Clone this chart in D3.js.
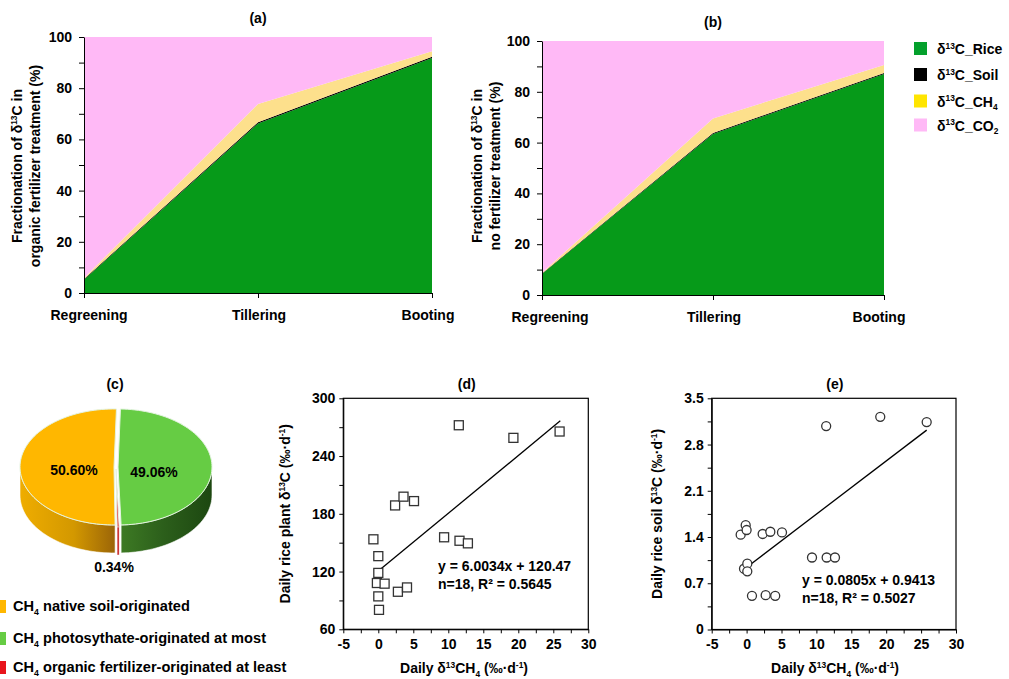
<!DOCTYPE html>
<html>
<head>
<meta charset="utf-8">
<script src="https://cdn.jsdelivr.net/npm/d3@7"></script>
<style>
  body { margin: 0; background: #fff; }
  svg { font-family: "Liberation Sans", Arial, sans-serif; }
  .tick text { font-size: 14px; font-weight: bold; fill: #000; }
</style>
</head>
<body>
<svg id="fig" width="1009" height="679"></svg>
<script>
// ---- data ----
const stages = ["Regreening", "Tillering", "Booting"];
const riceA = [5.2, 66.2, 91.8];
const soilA = [0.3, 0.5, 0.5];
const ch4A  = [0.4, 7.1, 2.1];
const riceB = [8.3, 63.4, 87.0];
const soilB = [0.2, 0.4, 0.4];
const ch4B  = [0.3, 5.7, 3.2];
const stackKeys = ["rice", "soil", "ch4", "co2"];
const legendLabels = ["δ^{13}C_Rice", "δ^{13}C_Soil", "δ^{13}C_CH_{4}", "δ^{13}C_CO_{2}"];

const pieNames = ["CH_{4} photosythate-originated at most", "CH_{4} organic fertilizer-originated at least", "CH_{4} native soil-originated"];
const pieValues = [49.06, 0.34, 50.60];

const dX = [11.5, 19.3, 25.9, 2.4, 3.6, 5.1, -0.7, 0.0, 0.0, -0.2, 0.9, 0.0, 0.1, 2.8, 4.1, 9.4, 11.6, 12.8];
const dY = [272, 258.9, 265.5, 188.7, 197.8, 193.2, 153.5, 136, 118.6, 108.1, 107.4, 94.2, 80.2, 99, 103.5, 155.6, 152, 149.3];
const eX = [11.4, 19.15, 25.8, -0.85, -0.13, 0.0, 2.3, 3.4, 5.07, -0.37, 0.1, 0.1, 0.77, 2.73, 4.1, 9.37, 11.47, 12.66];
const eY = [3.08, 3.22, 3.14, 1.435, 1.58, 1.506, 1.446, 1.48, 1.47, 0.92, 0.996, 0.88, 0.51, 0.52, 0.51, 1.09, 1.09, 1.09];
const fitD = {slope: 6.0034, icpt: 120.47, from: 0, to: 26};
const fitE = {slope: 0.0805, icpt: 0.9413, from: 0.4, to: 25.8};

const svg = d3.select("#fig");

// text with ^{sup} and _{sub} parts
function rich(sel, str, fs) {
  const pieces = str.split(/(\^\{[^}]*\}|_\{[^}]*\})/).filter(s => s);
  let shift = 0;
  pieces.forEach(p => {
    let dy = 0, t = p, small = false;
    if (p.startsWith("^{")) { t = p.slice(2, -1); dy = -fs * 0.38; small = true; }
    else if (p.startsWith("_{")) { t = p.slice(2, -1); dy = fs * 0.25; small = true; }
    const ts = sel.append("tspan").text(t).attr("dy", dy - shift);
    if (small) ts.attr("font-size", fs * 0.6);
    shift = dy;
  });
  return sel;
}

function label(x, y, str, opt = {}) {
  const fs = opt.size || 14;
  const t = svg.append("text")
    .attr("x", x).attr("y", y)
    .attr("font-size", fs)
    .attr("font-weight", opt.weight || "bold")
    .attr("text-anchor", opt.anchor || "middle");
  if (opt.rotate) t.attr("transform", `rotate(-90,${x},${y})`);
  return rich(t, str, fs);
}

// ---- (a) and (b): stacked areas ----
const areaColors = {rice: "#069a19", soil: "#000000", ch4: "#fde08c", co2: "#ffb9f6"};
const legendColors = ["#04a02c", "#000000", "#ffe500", "#ffb9f6"];

function stackPanel(rice, soil, ch4, box, title, ylab2) {
  const rows = stages.map((s, i) => ({
    stage: s, rice: rice[i], soil: soil[i], ch4: ch4[i],
    co2: 100 - rice[i] - soil[i] - ch4[i]
  }));
  const series = d3.stack().keys(stackKeys)(rows);
  const x = d3.scalePoint(stages, [box.x0, box.x1]);
  const y = d3.scaleLinear([0, 100], [box.y0, box.y1]);
  const area = d3.area().x(d => x(d.data.stage)).y0(d => y(d[0])).y1(d => y(d[1]));

  svg.append("g").selectAll("path").data(series).join("path")
    .attr("d", area)
    .attr("fill", d => areaColors[d.key]);

  svg.append("g")
    .attr("transform", `translate(${box.x0},0)`)
    .call(d3.axisLeft(y).tickValues(d3.range(0, 101, 10)).tickSize(5).tickSizeOuter(0).tickPadding(7)
      .tickFormat(d => d % 20 === 0 ? d : ""));
  svg.append("g")
    .attr("transform", `translate(0,${box.y0})`)
    .call(d3.axisBottom(x).tickSize(5).tickSizeOuter(0).tickFormat(""));

  const shift = [box.lab0, 1, box.lab2];
  stages.forEach((s, i) => label(x(s) + shift[i], box.y0 + 27, s));

  label((box.x0 + box.x1) / 2, box.y1 - 14, title);
  label(box.yl - 18, 166, "Fractionation of δ^{13}C in", {rotate: true});
  label(box.yl, 166, ylab2, {rotate: true});
}

stackPanel(riceA, soilA, ch4A, {x0: 84, x1: 432, y0: 293, y1: 37, lab0: 5, lab2: -4, yl: 40},
  "(a)", "organic fertilizer treatment (%)");
stackPanel(riceB, soilB, ch4B, {x0: 542, x1: 884, y0: 295, y1: 41, lab0: 8, lab2: -5, yl: 500},
  "(b)", "no fertilizer treatment (%)");

const leg = svg.append("g");
legendLabels.forEach((l, i) => {
  const yy = [42, 68, 94.5, 118.5][i];
  leg.append("rect").attr("x", 914).attr("y", yy).attr("width", 13).attr("height", 13)
    .attr("fill", legendColors[i]);
  const t = leg.append("text").attr("x", 937).attr("y", yy + 12)
    .attr("font-size", 14).attr("font-weight", "bold");
  rich(t, l, 14);
});

// ---- (c): 3-D pie ----
const pc = {cx: 116, cy: 467, rx: 94, ry: 58, depth: 28, explode: 2};
const topColors = ["#66cc44", "#e8141c", "#ffb700"];
const defs = svg.append("defs");
const wallStops = [
  [["0%", "#3f7d25"], ["50%", "#2c5f1b"], ["100%", "#1d4811"]],
  [["0%", "#c00000"], ["100%", "#c00000"]],
  [["0%", "#eeac00"], ["55%", "#d39800"], ["100%", "#9a6408"]]
];
wallStops.forEach((st, i) => {
  const g = defs.append("linearGradient").attr("id", "wall" + i)
    .attr("gradientUnits", "userSpaceOnUse")
    .attr("x1", i === 0 ? pc.cx : pc.cx - pc.rx).attr("x2", i === 0 ? pc.cx + pc.rx : pc.cx)
    .attr("y1", 0).attr("y2", 0);
  st.forEach(s => g.append("stop").attr("offset", s[0]).attr("stop-color", s[1]));
});

const arcs = d3.pie().sort(null).startAngle(0.026).endAngle(0.026 + 2 * Math.PI)(pieValues);
const pt = (a, o) => [pc.cx + o[0] + pc.rx * Math.sin(a), pc.cy + o[1] - pc.ry * Math.cos(a)];
const offs = arcs.map(a => {
  const m = (a.startAngle + a.endAngle) / 2;
  return [pc.explode * Math.sin(m), -pc.explode * Math.cos(m)];
});

const pieG = svg.append("g");
arcs.forEach((a, i) => {
  const s = Math.max(a.startAngle, Math.PI / 2), e = Math.min(a.endAngle, 3 * Math.PI / 2);
  if (e <= s) return;
  const n = 40, top = [], bot = [];
  for (let k = 0; k <= n; k++) {
    const p = pt(s + (e - s) * k / n, offs[i]);
    top.push(p); bot.push([p[0], p[1] + pc.depth]);
  }
  pieG.append("path")
    .attr("d", d3.line()(top.concat(bot.reverse())) + "Z")
    .attr("fill", `url(#wall${i})`)
    .attr("stroke", "#ffffff").attr("stroke-width", 0.6);
});
arcs.forEach((a, i) => {
  const n = 80, pts = [[pc.cx + offs[i][0], pc.cy + offs[i][1]]];
  for (let k = 0; k <= n; k++) pts.push(pt(a.startAngle + (a.endAngle - a.startAngle) * k / n, offs[i]));
  pieG.append("path")
    .attr("d", d3.line()(pts) + "Z")
    .attr("fill", topColors[i])
    .attr("stroke", "#e4f4e0").attr("stroke-width", 1);
});
label(154, 477, d3.format(".2f")(pieValues[0]) + "%");
label(74, 475, d3.format(".2f")(pieValues[2]) + "%");
label(114, 572, d3.format(".2f")(pieValues[1]) + "%");
label(115, 389, "(c)");

const cLeg = [[2, 600], [0, 632], [1, 661]];
cLeg.forEach(([idx, yy]) => {
  svg.append("rect").attr("x", -6).attr("y", yy).attr("width", 12).attr("height", 13)
    .attr("fill", idx === 1 ? "#e8141c" : topColors[idx]);
  label(13, yy + 11, pieNames[idx], {anchor: "start", size: 14.6});
});

// ---- (d) and (e): scatter with fit ----
function scatter(xs, ys, fit, box, yDom, yTicks, yFmt, yMinor, shape, title, ylab, eq) {
  const x = d3.scaleLinear([-5, 30], [box.x0, box.x1]);
  const y = d3.scaleLinear(yDom, [box.y0, box.y1]);

  svg.append("g").attr("transform", `translate(0,${box.y0})`)
    .call(d3.axisBottom(x).tickValues(d3.range(-5, 30.1, 2.5)).tickSize(4).tickSizeOuter(0).tickPadding(6)
      .tickFormat(d => d % 5 === 0 ? String(d) : ""));
  svg.append("g").attr("transform", `translate(${box.x0},0)`)
    .call(d3.axisLeft(y).tickValues(yMinor).tickSize(4).tickSizeOuter(0).tickPadding(4)
      .tickFormat((d, i) => yTicks.includes(i) ? yFmt(d) : ""));
  svg.append("rect")
    .attr("x", box.x0).attr("y", box.y1)
    .attr("width", box.x1 - box.x0).attr("height", box.y0 - box.y1)
    .attr("fill", "none").attr("stroke", "#000").attr("stroke-width", 1.2);

  svg.append("line")
    .attr("x1", x(fit.from)).attr("y1", y(fit.slope * fit.from + fit.icpt))
    .attr("x2", x(fit.to)).attr("y2", y(fit.slope * fit.to + fit.icpt))
    .attr("stroke", "#000").attr("stroke-width", 1.3);

  const g = svg.append("g").attr("fill", "#fff").attr("stroke", "#333").attr("stroke-width", 1.3);
  xs.forEach((v, i) => {
    if (shape === "square") {
      g.append("rect").attr("x", x(v) - 4.5).attr("y", y(ys[i]) - 4.5).attr("width", 9).attr("height", 9);
    } else {
      g.append("circle").attr("cx", x(v)).attr("cy", y(ys[i])).attr("r", 4.5);
    }
  });

  label((box.x0 + box.x1) / 2 + 1, box.y1 - 9, title);
  label(box.yl, (box.y0 + box.y1) / 2, ylab, {rotate: true});
  label(box.xl, 673, "Daily δ^{13}CH_{4} (‰·d^{-1})");
  label(box.eqx, box.eqy, eq[0], {anchor: "start"});
  label(box.eqx, box.eqy + 18, eq[1], {anchor: "start"});
}

scatter(dX, dY, fitD, {x0: 343.3, x1: 588.3, y0: 629.3, y1: 398.3, yl: 290, xl: 464, eqx: 438, eqy: 571},
  [60, 300], [0, 2, 4, 6, 8], d => String(d), d3.range(60, 301, 30), "square",
  "(d)", "Daily rice plant δ^{13}C (‰·d^{-1})",
  ["y = 6.0034x + 120.47", "n=18, R² = 0.5645"]);

scatter(eX, eY, fitE, {x0: 711.7, x1: 956, y0: 629.5, y1: 398.3, yl: 662, xl: 835, eqx: 802, eqy: 585},
  [0, 3.5], [0, 2, 4, 6, 8, 10], d => d === 0 ? "0" : d.toFixed(1), d3.range(11).map(i => i * 0.35), "circle",
  "(e)", "Daily rice soil δ^{13}C (‰·d^{-1})",
  ["y = 0.0805x + 0.9413", "n=18, R² = 0.5027"]);
</script>
</body>
</html>
